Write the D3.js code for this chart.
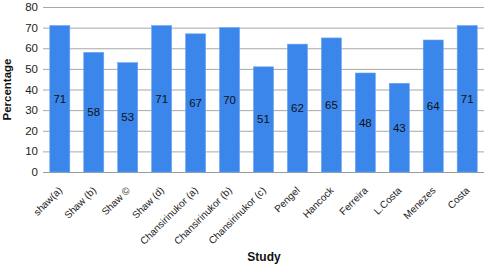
<!DOCTYPE html>
<html>
<head>
<meta charset="utf-8">
<script src="https://cdn.jsdelivr.net/npm/d3@7"></script>
<style>
  body { margin: 0; background: #fff; }
  text { font-family: "Liberation Sans", Arial, sans-serif; }
</style>
</head>
<body>
<svg id="chart" width="484" height="264"></svg>
<script>
// data
const studies = ["shaw(a)", "Shaw (b)", "Shaw \u00A9", "Shaw (d)", "Chansirinukor (a)", "Chansirinukor (b)",
    "Chansirinukor (c)", "Pengel", "Hancock", "Ferreira", "L.Costa", "Menezes", "Costa"];
const percentages = [71, 58, 53, 71, 67, 70, 51, 62, 65, 48, 43, 64, 71];
const yTicks = [0, 10, 20, 30, 40, 50, 60, 70, 80];

const svg = d3.select("#chart");
const margin = { top: 7, right: 0, bottom: 92, left: 43 },
    width = 484 - margin.left - margin.right,
    height = 264 - margin.top - margin.bottom;

const g = svg.append("g")
    .attr("transform", "translate(" + margin.left + "," + margin.top + ")");

const x = d3.scaleBand().domain(studies).range([0, 441]).paddingInner(0.41).paddingOuter(0.2);
const y = d3.scaleLinear().domain([0, 80]).range([height, 0]);

// gridlines
g.selectAll("line.grid")
    .data(yTicks)
    .enter()
    .append("line")
    .attr("class", "grid")
    .attr("x1", 0)
    .attr("x2", width)
    .attr("y1", d => y(d) + 0.5)
    .attr("y2", d => y(d) + 0.5)
    .attr("stroke", d => d === 0 ? "#9a9a9a" : "#a8a8a8")
    .attr("stroke-width", 1);

// y tick labels
g.selectAll("text.ytick")
    .data(yTicks)
    .enter()
    .append("text")
    .attr("class", "ytick")
    .attr("x", -5)
    .attr("y", d => y(d))
    .attr("dy", "0.35em")
    .attr("text-anchor", "end")
    .attr("font-size", 11.5)
    .attr("fill", "#222")
    .text(d => d);

// bars
g.selectAll("rect.bar")
    .data(percentages)
    .enter()
    .append("rect")
    .attr("class", "bar")
    .attr("x", (d, i) => x(studies[i]))
    .attr("y", d => y(d))
    .attr("width", x.bandwidth())
    .attr("height", d => height - y(d))
    .attr("fill", "#3a86ea")
    .attr("stroke", "#6aa5f2")
    .attr("stroke-width", 0.6);

// value labels in bar middle
g.selectAll("text.val")
    .data(percentages)
    .enter()
    .append("text")
    .attr("class", "val")
    .attr("x", (d, i) => x(studies[i]) + x.bandwidth() / 2)
    .attr("y", d => (y(d) + height) / 2)
    .attr("dy", "0.35em")
    .attr("text-anchor", "middle")
    .attr("font-size", 11.5)
    .attr("fill", "#111")
    .text(d => d);

// x category labels, rotated
g.selectAll("text.xtick")
    .data(studies)
    .enter()
    .append("text")
    .attr("class", "xtick")
    .attr("transform", d => "translate(" + (x(d) + x.bandwidth() / 2 + 3) + "," + (height + 19) + ") rotate(-45)")
    .attr("text-anchor", "end")
    .attr("font-size", 10)
    .attr("fill", "#222")
    .text(d => d);

// axis titles
svg.append("text")
    .attr("transform", "translate(11," + (margin.top + height / 2) + ") rotate(-90)")
    .attr("text-anchor", "middle")
    .attr("font-size", 11.5)
    .attr("font-weight", "bold")
    .attr("fill", "#111")
    .text("Percentage");

svg.append("text")
    .attr("x", 264)
    .attr("y", 261)
    .attr("text-anchor", "middle")
    .attr("font-size", 12)
    .attr("font-weight", "bold")
    .attr("fill", "#111")
    .text("Study");
</script>
</body>
</html>
